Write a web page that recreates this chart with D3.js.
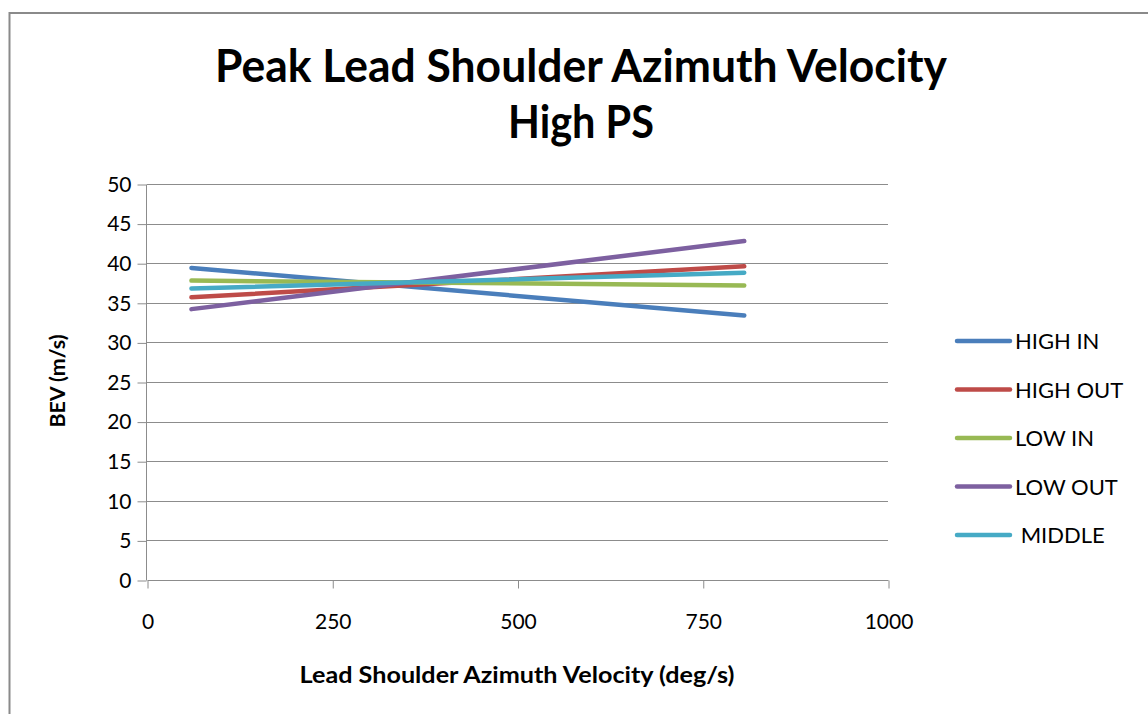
<!DOCTYPE html>
<html>
<head>
<meta charset="utf-8">
<script src="https://cdn.jsdelivr.net/npm/d3@7"></script>
<style>
  html, body { margin: 0; padding: 0; background: #fff; }
  svg { display: block; }
  text { font-family: Lato, "Open Sans", sans-serif; fill: #000; }
</style>
</head>
<body>
<script>
// Series: start and end of each fitted line (x in deg/s, y in m/s)
const seriesNames = ["HIGH IN", "HIGH OUT", "LOW IN", "LOW OUT", "MIDDLE"];
const legendLabels = ["HIGH IN", "HIGH OUT", "LOW IN", "LOW OUT", " MIDDLE"];
const xValues = [60, 806];
const highIn  = [39.4, 33.4];
const highOut = [35.7, 39.6];
const lowIn   = [37.8, 37.2];
const lowOut  = [34.2, 42.8];
const middle  = [36.8, 38.8];
const seriesColors = ["#4a7ebb", "#be4b48", "#98b954", "#7d60a0", "#46aac5"];
const xTicks = [0, 250, 500, 750, 1000];
const yTicks = [0, 5, 10, 15, 20, 25, 30, 35, 40, 45, 50];

const seriesValues = [highIn, highOut, lowIn, lowOut, middle];

const W = 1148, H = 714;
const svg = d3.select("body").append("svg").attr("width", W).attr("height", H);

// Outer chart frame
svg.append("rect")
  .attr("x", 9.5).attr("y", 13).attr("width", W + 10).attr("height", H + 10)
  .attr("fill", "none").attr("stroke", "#8a8a8a").attr("stroke-width", 2);

const x = d3.scaleLinear().domain([0, 1000]).range([147, 888]);
const y = d3.scaleLinear().domain([0, 50]).range([580, 184]);

// Horizontal gridlines
svg.append("g").selectAll("line").data(yTicks.filter(d => d > 0)).join("line")
  .attr("x1", x(0)).attr("x2", x(1000))
  .attr("y1", d => Math.round(y(d)) + 0.5).attr("y2", d => Math.round(y(d)) + 0.5)
  .attr("stroke", "#8c8c8c").attr("stroke-width", 1);

// Y axis
const yAxis = svg.append("g")
  .attr("transform", `translate(${x(0) - 0.5},0.5)`)
  .call(d3.axisLeft(y).tickValues(yTicks).tickSize(9).tickPadding(6).tickFormat(d3.format("d")));
yAxis.selectAll("path, line").attr("stroke", "#8c8c8c");
yAxis.selectAll("text").style("font-size", "21px").attr("fill", "#000")
  .style("font-family", "Lato, sans-serif");
yAxis.select(".domain").attr("d", `M0,${y(50)}V${y(0)}`);

// X axis
const xAxis = svg.append("g")
  .attr("transform", `translate(0.5,${Math.round(y(0)) + 0.5})`)
  .call(d3.axisBottom(x).tickValues(xTicks).tickSize(8).tickPadding(26).tickFormat(d3.format("d")));
xAxis.selectAll("path, line").attr("stroke", "#8c8c8c");
xAxis.select(".domain").attr("d", `M${x(0)},0H${x(1000)}`);
xAxis.selectAll("text").style("font-size", "21px").attr("fill", "#000")
  .style("font-family", "Lato, sans-serif");

// Series lines
const line = d3.line().x((d, i) => x(xValues[i])).y(d => y(d));
svg.append("g").selectAll("path").data(seriesValues).join("path")
  .attr("d", d => line(d))
  .attr("fill", "none")
  .attr("stroke", (d, i) => seriesColors[i])
  .attr("stroke-width", 4.5)
  .attr("stroke-linecap", "round");

// Title
const title = svg.append("text")
  .attr("text-anchor", "middle")
  .style("font-size", "46px").style("font-weight", "bold");
title.append("tspan").attr("x", 581).attr("y", 82)
  .attr("textLength", 732).attr("lengthAdjust", "spacingAndGlyphs")
  .text("Peak Lead Shoulder Azimuth Velocity");
title.append("tspan").attr("x", 581).attr("y", 138)
  .attr("textLength", 146).attr("lengthAdjust", "spacingAndGlyphs")
  .text("High PS");

// Axis titles
svg.append("text")
  .attr("x", 517).attr("y", 683)
  .attr("text-anchor", "middle")
  .attr("textLength", 435).attr("lengthAdjust", "spacingAndGlyphs")
  .style("font-size", "22px").style("font-weight", "bold")
  .text("Lead Shoulder Azimuth Velocity (deg/s)");

svg.append("text")
  .attr("transform", "translate(65,381) rotate(-90)")
  .attr("text-anchor", "middle")
  .attr("textLength", 93).attr("lengthAdjust", "spacingAndGlyphs")
  .style("font-size", "21px").style("font-weight", "bold")
  .text("BEV (m/s)");

// Legend
const legend = svg.append("g").selectAll("g").data(seriesNames).join("g")
  .attr("transform", (d, i) => `translate(957,${341 + i * 48.5})`);
legend.append("line")
  .attr("x1", 0).attr("x2", 53).attr("y1", 0).attr("y2", 0)
  .attr("stroke", (d, i) => seriesColors[i])
  .attr("stroke-width", 4.5).attr("stroke-linecap", "round");
legend.append("text")
  .attr("x", 58).attr("y", 8)
  .style("font-size", "22px")
  .style("white-space", "pre")
  .attr("xml:space", "preserve")
  .text((d, i) => legendLabels[i]);
</script>
</body>
</html>
